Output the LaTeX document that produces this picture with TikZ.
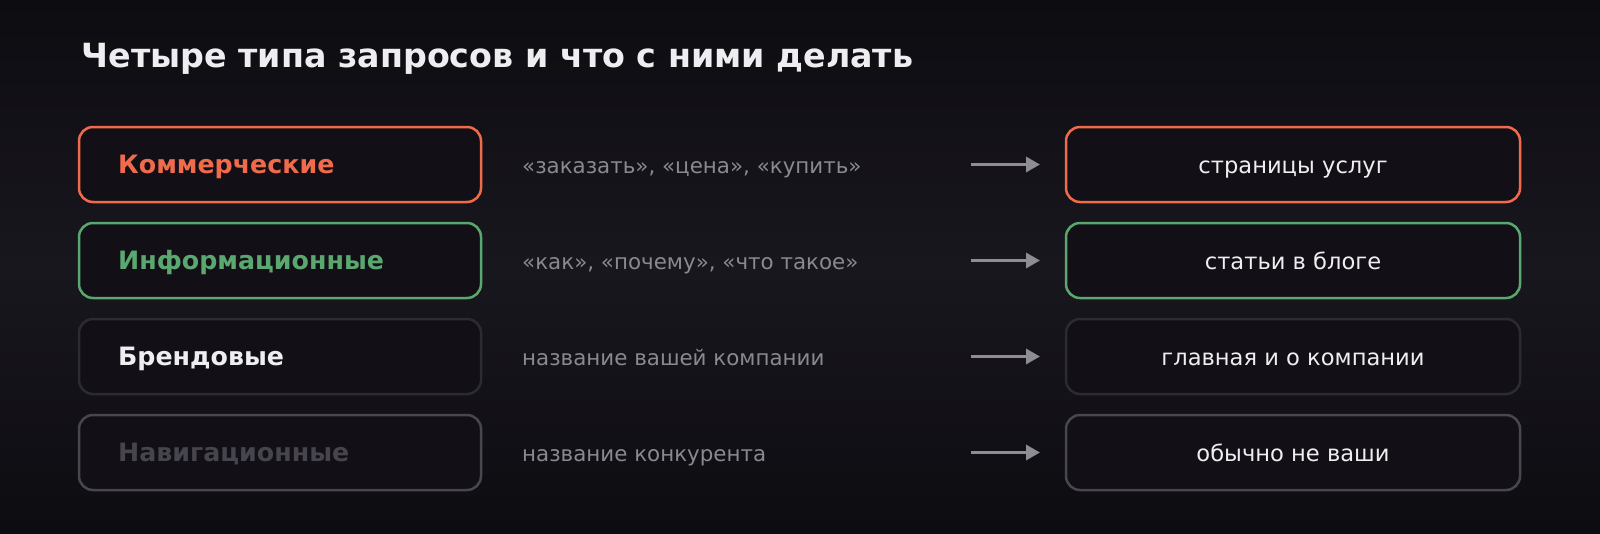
\documentclass[tikz,border=0pt]{standalone}
\usepackage{fontspec}
\setmainfont{DejaVu Sans}
\usetikzlibrary{arrows.meta}
\definecolor{bgbase}{HTML}{0D0C11}
\definecolor{bgband}{HTML}{19171E}
\definecolor{boxfill}{HTML}{121016}
\definecolor{orangec}{HTML}{F06B4B}
\definecolor{greenc}{HTML}{5AA870}
\definecolor{brandb}{HTML}{2D2B32}
\definecolor{navb}{HTML}{49474E}
\definecolor{navt}{HTML}{46444C}
\definecolor{midt}{HTML}{8B8990}
\definecolor{arrc}{HTML}{8E8C94}
\definecolor{whitet}{HTML}{EEEDF0}
\tikzset{
  leftbox/.style={draw, fill=boxfill, rounded corners=14pt, minimum width=402pt, minimum height=75pt, inner sep=0pt, line width=2.5pt},
  rightbox/.style={draw, fill=boxfill, rounded corners=14pt, minimum width=454pt, minimum height=75pt, inner sep=0pt, line width=2.5pt},
  lbl/.style={anchor=base west, inner sep=0pt, font=\fontsize{25.3}{30}\selectfont\bfseries},
  midtext/.style={anchor=base west, inner sep=0pt, text=midt, font=\fontsize{21.4}{25}\selectfont},
  rtext/.style={anchor=base, inner sep=0pt, text=whitet, font=\fontsize{22.6}{26}\selectfont},
  conn/.style={draw=arrc, line width=3.2pt, -{Triangle[length=14pt, width=15pt]}}
}
\begin{document}
\begin{tikzpicture}[x=1pt,y=-1pt]
\useasboundingbox (0,0) rectangle (1600,533);
\fill[bgbase] (0,0) rectangle (1600,533);
\shade[shading angle=35, top color=bgbase, bottom color=bgbase, middle color=bgband] (0,0) rectangle (1600,533);
\node[anchor=base west, inner sep=0pt, text=whitet, font=\fontsize{33.3}{38}\selectfont\bfseries] (title) at (81.5,67) {Четыре типа запросов и что с ними делать};
% left boxes
\node[leftbox, draw=orangec] (l1) at (280,164.5) {};
\node[leftbox, draw=greenc] (l2) at (280,260.5) {};
\node[leftbox, draw=brandb] (l3) at (280,356.5) {};
\node[leftbox, draw=navb] (l4) at (280,452.5) {};
\node[lbl, text=orangec] (t1) at (118,173.5) {Коммерческие};
\node[lbl, text=greenc] (t2) at (118,269.5) {Информационные};
\node[lbl, text=whitet] (t3) at (118,365.5) {Брендовые};
\node[lbl, text=navt] (t4) at (118,461.5) {Навигационные};
% middle
\node[midtext] (m1) at (522,173) {«заказать», «цена», «купить»};
\node[midtext] (m2) at (522,269) {«как», «почему», «что такое»};
\node[midtext] (m3) at (522,365) {название вашей компании};
\node[midtext] (m4) at (522,461) {название конкурента};
% right boxes
\node[rightbox, draw=orangec] (r1) at (1293,164.5) {};
\node[rightbox, draw=greenc] (r2) at (1293,260.5) {};
\node[rightbox, draw=brandb] (r3) at (1293,356.5) {};
\node[rightbox, draw=navb] (r4) at (1293,452.5) {};
\node[rtext] (rt1) at (1293,173) {страницы услуг};
\node[rtext] (rt2) at (1293,269) {статьи в блоге};
\node[rtext] (rt3) at (1293,365) {главная и о компании};
\node[rtext] (rt4) at (1293,461) {обычно не ваши};
% arrows
\foreach \i/\y in {1/164.5,2/260.5,3/356.5,4/452.5}{
  \coordinate (as\i) at (971,\y);
  \coordinate (ae\i) at (1040,\y);
  \draw[conn] (as\i) -- (ae\i);
}
\end{tikzpicture}
\end{document}
